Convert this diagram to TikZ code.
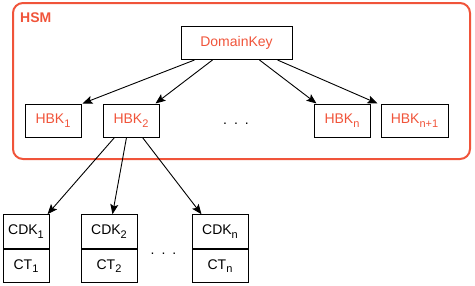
\documentclass[tikz,border=0pt]{standalone}
\usepackage{fontspec}
\setmainfont{Liberation Sans}
\usetikzlibrary{arrows.meta,calc}
\definecolor{hsmred}{RGB}{240,84,58}
\newcommand\sbs[1]{\raisebox{-3.5pt}{\fontsize{11}{12}\selectfont #1}}
\begin{document}
\begin{tikzpicture}[x=1pt,y=-1pt,
  txt/.style={font=\fontsize{14}{16}\selectfont},
  keybox/.style={draw=black,line width=1pt,txt,text=hsmred,inner sep=0pt,minimum height=33pt},
  cbox/.style={draw=black,line width=1pt,txt,text=black,inner sep=0pt,minimum height=33.5pt},
  conn/.style={draw=black,line width=0.9pt,-{Stealth[length=10pt,width=8pt,inset=2pt]}},
  dots/.style={txt,inner sep=0pt}]
\useasboundingbox (0,0) rectangle (475,285);
% HSM frame
\draw[hsmred,line width=2pt,rounded corners=10pt] (13,3) rectangle (470,159);
\node[anchor=west,inner sep=0pt,text=hsmred,font=\bfseries\fontsize{14}{16}\selectfont] (hsm) at (20,18) {HSM};
% nodes
\node[keybox,minimum width=111pt] (dk) at (236.5,43) {DomainKey};
\node[keybox,minimum width=56pt] (hbk1) at (53,120.5) {HBK\sbs{1}};
\node[keybox,minimum width=56pt] (hbk2) at (131,120.5) {HBK\sbs{2}};
\node[keybox,minimum width=56pt] (hbkn) at (342,120.5) {HBK\sbs{n}};
\node[keybox,minimum width=67pt] (hbkn1) at (414.5,120.5) {HBK\sbs{n+1}};
\node[dots] (d1) at (236,124) {.\hspace{7pt}.\hspace{7pt}.};
% bottom boxes
\node[cbox,minimum width=46pt] (cdk1) at (26,231.5) {CDK\sbs{1}};
\node[cbox,minimum width=46pt,anchor=north] (ct1) at (cdk1.south) {CT\sbs{1}};
\node[cbox,minimum width=56pt] (cdk2) at (109,231.5) {CDK\sbs{2}};
\node[cbox,minimum width=56pt,anchor=north] (ct2) at (cdk2.south) {CT\sbs{2}};
\node[cbox,minimum width=56pt] (cdkn) at (220,231.5) {CDK\sbs{n}};
\node[cbox,minimum width=56pt,anchor=north] (ctn) at (cdkn.south) {CT\sbs{n}};
\node[dots] (d2) at (163.5,254) {.\hspace{7pt}.\hspace{7pt}.};
% connectors
\draw[conn] ([xshift=14pt]dk.south west) -- ([xshift=1pt]hbk1.north east);
\draw[conn] ([xshift=32pt]dk.south west) -- ([xshift=-4pt]hbk2.north east);
\draw[conn] ([xshift=-33pt]dk.south east) -- ([xshift=3pt]hbkn.north west);
\draw[conn] ([xshift=-15pt]dk.south east) -- ([xshift=-3pt]hbkn1.north west);
\draw[conn] ([xshift=12pt]hbk2.south west) -- ([xshift=-2pt]cdk1.north east);
\draw[conn] ([xshift=24pt]hbk2.south west) -- ([xshift=32pt]cdk2.north west);
\draw[conn] ([xshift=40pt]hbk2.south west) -- ([xshift=10pt]cdkn.north west);
\end{tikzpicture}
\end{document}
